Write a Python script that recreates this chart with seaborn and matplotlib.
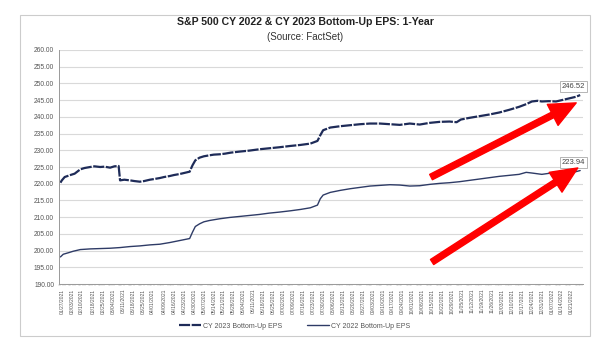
import matplotlib
matplotlib.use("Agg")
import matplotlib.pyplot as plt
import matplotlib.patches as mpatches
import matplotlib.dates as mdates
import seaborn as sns
import pandas as pd

# ---------------- data ----------------
tick_labels = [
    "01/27/2021", "02/03/2021", "02/10/2021", "02/18/2021", "02/25/2021",
    "03/04/2021", "03/11/2021", "03/18/2021", "03/25/2021", "04/01/2021",
    "04/09/2021", "04/16/2021", "04/23/2021", "04/30/2021", "05/07/2021",
    "05/14/2021", "05/21/2021", "05/28/2021", "06/04/2021", "06/11/2021",
    "06/18/2021", "06/25/2021", "07/02/2021", "07/09/2021", "07/16/2021",
    "07/23/2021", "07/30/2021", "08/06/2021", "08/13/2021", "08/20/2021",
    "08/27/2021", "09/03/2021", "09/10/2021", "09/17/2021", "09/24/2021",
    "10/01/2021", "10/08/2021", "10/15/2021", "10/22/2021", "10/29/2021",
    "11/05/2021", "11/12/2021", "11/19/2021", "11/26/2021", "12/03/2021",
    "12/10/2021", "12/17/2021", "12/24/2021", "12/31/2021", "01/07/2022",
    "01/14/2022", "01/21/2022",
]

dates_2023 = [
    "01/26/2021", "01/27/2021", "01/29/2021", "02/02/2021", "02/05/2021",
    "02/09/2021", "02/12/2021", "02/16/2021", "02/19/2021", "02/23/2021",
    "02/26/2021", "03/02/2021", "03/05/2021", "03/08/2021", "03/09/2021",
    "03/12/2021", "03/16/2021", "03/19/2021", "03/23/2021", "03/26/2021",
    "03/30/2021", "04/02/2021", "04/06/2021", "04/09/2021", "04/13/2021",
    "04/16/2021", "04/20/2021", "04/23/2021", "04/27/2021", "04/29/2021",
    "05/01/2021", "05/04/2021", "05/07/2021", "05/11/2021", "05/14/2021",
    "05/18/2021", "05/22/2021", "05/26/2021", "06/01/2021", "06/08/2021",
    "06/15/2021", "06/22/2021", "06/29/2021", "07/07/2021", "07/14/2021",
    "07/21/2021", "07/26/2021", "07/28/2021", "07/30/2021", "08/04/2021",
    "08/11/2021", "08/18/2021", "08/25/2021", "09/01/2021", "09/08/2021",
    "09/15/2021", "09/22/2021", "09/29/2021", "10/06/2021", "10/13/2021",
    "10/20/2021", "10/27/2021", "11/01/2021", "11/04/2021", "11/10/2021",
    "11/17/2021", "11/24/2021", "12/01/2021", "12/08/2021", "12/15/2021",
    "12/20/2021", "12/24/2021", "12/28/2021", "12/31/2021", "01/05/2022",
    "01/10/2022", "01/14/2022", "01/19/2022", "01/24/2022", "01/27/2022",
]
eps_2023 = [
    220.3, 221.0, 222.0, 222.6, 223.0,
    224.3, 224.7, 225.0, 225.2, 225.0,
    225.1, 224.8, 225.2, 225.3, 221.0,
    221.2, 221.0, 220.8, 220.6, 220.8,
    221.2, 221.4, 221.7, 222.0, 222.3,
    222.6, 222.9, 223.2, 223.6, 225.5,
    227.0, 227.8, 228.2, 228.5, 228.7,
    228.8, 229.0, 229.3, 229.6, 229.9,
    230.3, 230.6, 230.9, 231.3, 231.6,
    232.0, 232.8, 234.5, 236.0, 236.8,
    237.2, 237.5, 237.8, 238.0, 238.0,
    237.8, 237.6, 238.0, 237.7, 238.2,
    238.5, 238.6, 238.4, 239.2, 239.7,
    240.2, 240.7, 241.3, 242.1, 243.0,
    243.8, 244.6, 244.8, 244.6, 244.7,
    244.6, 245.0, 245.5, 246.0, 246.52,
]

dates_2022 = [
    "01/26/2021", "01/28/2021", "02/01/2021", "02/04/2021", "02/09/2021",
    "02/16/2021", "02/23/2021", "03/02/2021", "03/09/2021", "03/16/2021",
    "03/23/2021", "03/30/2021", "04/06/2021", "04/13/2021", "04/20/2021",
    "04/27/2021", "04/29/2021", "05/01/2021", "05/04/2021", "05/07/2021",
    "05/11/2021", "05/18/2021", "05/25/2021", "06/01/2021", "06/08/2021",
    "06/15/2021", "06/22/2021", "06/29/2021", "07/07/2021", "07/14/2021",
    "07/21/2021", "07/26/2021", "07/28/2021", "07/30/2021", "08/04/2021",
    "08/11/2021", "08/18/2021", "08/25/2021", "09/01/2021", "09/08/2021",
    "09/15/2021", "09/22/2021", "09/29/2021", "10/06/2021", "10/13/2021",
    "10/20/2021", "10/27/2021", "11/03/2021", "11/10/2021", "11/17/2021",
    "11/24/2021", "12/01/2021", "12/08/2021", "12/15/2021", "12/20/2021",
    "12/24/2021", "12/31/2021", "01/05/2022", "01/10/2022", "01/14/2022",
    "01/19/2022", "01/24/2022", "01/27/2022",
]
eps_2022 = [
    198.1, 198.9, 199.4, 199.8, 200.3,
    200.5, 200.6, 200.7, 200.9, 201.2,
    201.4, 201.7, 201.9, 202.4, 203.0,
    203.6, 205.5, 207.2, 208.0, 208.6,
    209.0, 209.5, 209.9, 210.2, 210.5,
    210.8, 211.2, 211.5, 211.9, 212.3,
    212.8, 213.6, 215.5, 216.6, 217.4,
    218.0, 218.5, 218.9, 219.3, 219.5,
    219.7, 219.6, 219.3, 219.4, 219.8,
    220.1, 220.3, 220.6, 221.0, 221.4,
    221.8, 222.2, 222.5, 222.8, 223.4,
    223.2, 222.8, 223.1, 223.4, 223.6,
    223.5, 223.6, 223.94,
]

label_2023 = "CY 2023 Bottom-Up EPS"
label_2022 = "CY 2022 Bottom-Up EPS"
title = "S&P 500 CY 2022 & CY 2023 Bottom-Up EPS: 1-Year"
subtitle = "(Source: FactSet)"

# ---------------- plotting ----------------
sns.set_style("white")
plt.rcParams["font.family"] = ["Liberation Sans", "DejaVu Sans"]

df23 = pd.DataFrame({"date": pd.to_datetime(dates_2023, format="%m/%d/%Y"), "eps": eps_2023})
df22 = pd.DataFrame({"date": pd.to_datetime(dates_2022, format="%m/%d/%Y"), "eps": eps_2022})

fig = plt.figure(figsize=(6.05, 3.38), dpi=100)
ax = fig.add_axes([59 / 605, 1 - 284 / 338, 524 / 605, 234 / 338])

navy = "#1e2b58"
sns.lineplot(data=df23, x="date", y="eps", ax=ax, color=navy, linewidth=1.6,
             label=label_2023)
ax.lines[-1].set_dashes([5, 0.7])
sns.lineplot(data=df22, x="date", y="eps", ax=ax, color="#2e3b66", linewidth=1.0,
             label=label_2022)

# axes
ax.set_ylim(190, 260)
ax.set_yticks(range(190, 261, 5))
ax.set_yticklabels([f"{v:.2f}" for v in range(190, 261, 5)], fontsize=4.8, color="#555555")
ax.set_xlim(pd.Timestamp("2021-01-25"), pd.Timestamp("2022-01-29"))
tick_dates = pd.to_datetime(tick_labels, format="%m/%d/%Y")
ax.set_xticks(tick_dates)
ax.set_xticklabels(tick_labels, rotation=90, fontsize=3.6, color="#555555")
ax.xaxis.set_minor_locator(mdates.WeekdayLocator(byweekday=(0, 1, 2, 3, 4)))
ax.set_xlabel("")
ax.set_ylabel("")
ax.grid(axis="y", color="#d9d9d9", linewidth=0.8)
ax.tick_params(axis="both", length=2, width=0.5, color="#999999", pad=1.5)
ax.tick_params(axis="x", which="minor", length=1.5, width=0.3, color="#aaaaaa", bottom=True)
ax.tick_params(axis="x", direction="out")
for s in ["top", "right"]:
    ax.spines[s].set_visible(False)
for s in ["left", "bottom"]:
    ax.spines[s].set_color("#999999")
    ax.spines[s].set_linewidth(0.7)

# end-value labels
for d, v in [(df23["date"].iloc[-1], eps_2023[-1]), (df22["date"].iloc[-1], eps_2022[-1])]:
    ax.annotate(f"{v:.2f}", xy=(d, v), xytext=(-5, 3.5), textcoords="offset points",
                ha="center", va="bottom", fontsize=5.5, color="#444444",
                bbox=dict(boxstyle="square,pad=0.25", fc="white", ec="#aaaaaa", lw=0.6))

# red arrows
for tail, tip in [((0.710, 0.457), (0.987, 0.774)), ((0.712, 0.094), (0.990, 0.496))]:
    ax.annotate("", xy=tip, xytext=tail, xycoords="axes fraction", textcoords="axes fraction",
                arrowprops=dict(facecolor="#ff0000", edgecolor="#ff0000", width=4.3,
                                headwidth=17, headlength=19, shrink=0), zorder=5)

# legend
leg = ax.legend(loc="center", bbox_to_anchor=(0.45, -0.18), ncol=2, frameon=False,
                fontsize=5, handlelength=3.2, columnspacing=3.5, handletextpad=0.3)
for t in leg.get_texts():
    t.set_color("#555555")

# titles
fig.text(0.505, 1 - 22 / 338, title, ha="center", va="center", fontsize=7.6,
         fontweight="bold", color="#222222")
fig.text(0.505, 1 - 37 / 338, subtitle, ha="center", va="center", fontsize=7,
         color="#333333")

# outer border
fig.patches.append(mpatches.Rectangle((20 / 605, 2 / 338), 570 / 605, 321 / 338,
                                      transform=fig.transFigure, fill=False,
                                      edgecolor="#cccccc", linewidth=0.8))

fig.savefig("out.png", dpi=100)
